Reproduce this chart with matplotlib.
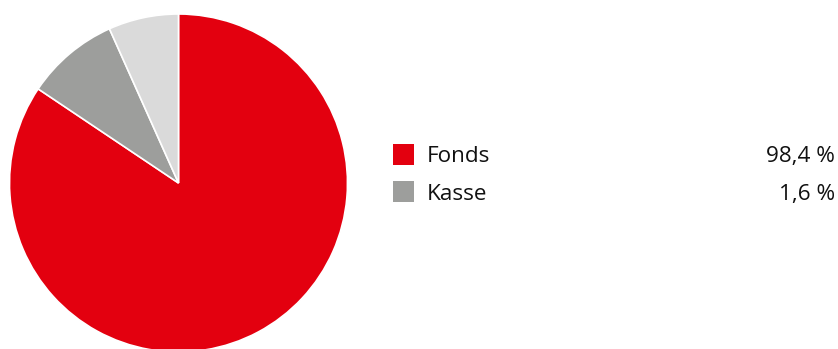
import matplotlib.pyplot as plt
from matplotlib.patches import Rectangle

# pie slices as drawn (red, dark gray, light gray)
slice_values = [84.4, 8.9, 6.7]
slice_colors = ['#E3000F', '#9D9E9C', '#DADADA']

# legend
legend_labels = ['Fonds', 'Kasse']
legend_values = ['98,4 %', '1,6 %']
legend_colors = ['#E3000F', '#9D9E9C']

fig = plt.figure(figsize=(8.38, 3.49), dpi=100)
ax = fig.add_axes([0, 0, 1, 1])

ax.pie(slice_values, colors=slice_colors, startangle=90, counterclock=False,
       center=(178.5, 166), radius=169,
       wedgeprops=dict(edgecolor='white', linewidth=1.2))
ax.set_xlim(0, 838)
ax.set_ylim(0, 349)
ax.set_aspect('equal')
ax.axis('off')

for i, (lab, val, col) in enumerate(zip(legend_labels, legend_values, legend_colors)):
    y_top = 349 - 144 - i * 37
    ax.add_patch(Rectangle((392.5, y_top - 21), 21, 21, facecolor=col, edgecolor='none'))
    base = 349 - 162 - i * 38
    ax.text(426.5, base, lab, fontsize=16.2, family='Open Sans', color='#111111', va='baseline', ha='left')
    ax.text(835, base, val, fontsize=16.2, family='Open Sans', color='#111111', va='baseline', ha='right')

fig.savefig('out.png', dpi=100)
